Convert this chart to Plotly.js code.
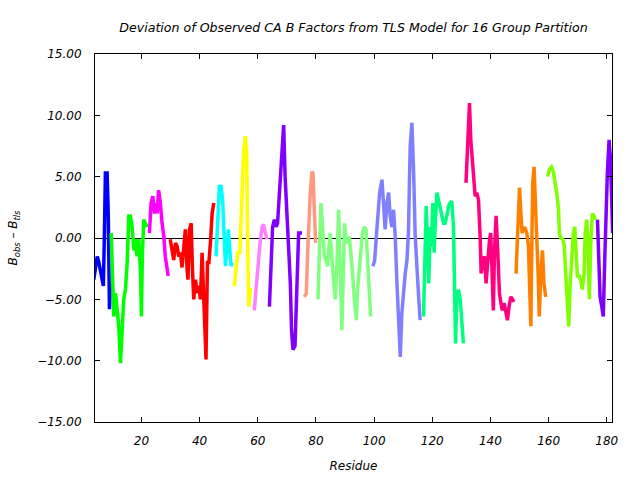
<!DOCTYPE html>
<html>
<head>
<meta charset="utf-8">
<script src="https://cdn.plot.ly/plotly-3.0.1.min.js"></script>
<style>html,body{margin:0;padding:0;background:#fff;}#chart{width:640px;height:480px;}</style>
</head>
<body>
<div id="chart"></div>
<script>
// Group colours (16 TLS groups)
const groupColors = ["#0000ff","#00ff00","#ff00ff","#ff0000","#00ffff","#ffff00","#ff80ff","#8000ff",
                     "#ff9980","#80ff80","#8080ff","#00ff80","#ff0080","#ff8000","#80ff00","#8000ff"];

// Residue positions and deviations, one pair of arrays per group
const res1 = [3.6,4.3,4.8,5.3,5.9,6.5,6.9,7.3,7.6,8.2,8.6,9.0,9.35];
const dev1 = [-3.4,-2.5,-1.5,-1.9,-2.6,-3.6,-3.9,0.7,5.3,5.3,1.8,-5.8,-3.7];
const res2 = [9.6,10.0,10.5,11.1,11.6,12.2,12.8,13.4,13.9,14.5,15.1,15.65,16.2,16.8,17.4,17.9,18.5,19.1,19.7,20.0,20.3,20.8,21.4,21.95];
const dev2 = [0.4,-2.9,-6.4,-4.5,-5.6,-7.2,-10.2,-7.2,-5.0,-4.2,-2.0,1.8,1.8,0.9,-1.0,-0.1,-1.5,-0.1,-2.9,-6.4,-1.5,1.5,1.2,0.9];
const res3 = [22.75,23.3,23.9,24.5,25.0,25.4,25.9,26.5,27.1,27.7,28.2,28.8,29.2];
const dev3 = [0.4,2.85,3.4,2.0,2.85,2.0,3.9,2.85,1.2,0.1,-1.5,-2.3,-3.1];
const res4 = [29.9,30.5,31.1,31.7,32.3,32.8,33.4,33.95,34.5,35.1,35.7,36.0,36.5,37.1,37.5,37.98,38.6,39.1,39.7,40.3,40.85,41.4,41.8,42.2,42.7,43.2,43.8,44.3,44.9];
const dev4 = [-0.1,-1.2,-1.8,-0.4,-0.7,-1.5,-1.2,-2.4,-0.7,0.7,-2.6,-3.4,0.7,1.2,-2.3,-5.0,-3.4,-4.5,-3.9,-5.0,-1.2,-5.0,-8.3,-9.9,-2.0,-2.0,-0.1,2.0,2.85];
const res5 = [45.65,46.2,46.8,47.4,47.9,48.3,48.9,49.4,49.9,50.3,50.8,51.15];
const dev5 = [-1.5,1.5,4.2,4.2,3.1,0.9,-2.3,-0.7,0.7,-0.7,-2.3,-2.0];
const res6 = [51.95,52.5,53.1,53.8,54.1,54.5,54.8,55.2,55.7,56.2,56.5,56.9,57.45,58.0];
const dev6 = [-3.9,-2.3,-1.2,-1.2,0.7,4.2,6.1,7.2,8.3,6.9,-0.1,-5.6,-4.2,-4.2];
const res7 = [58.8,59.3,59.7,60.3,60.9,61.5,62.0,62.6,63.2];
const dev7 = [-5.9,-4.5,-2.9,-1.8,-0.1,0.9,1.1,0.4,-0.1];
const res8 = [64.0,64.55,65.1,65.7,66.3,66.8,67.4,68.0,68.6,68.9,69.4,69.8,70.3,70.7,71.2,71.6,72.1,72.8,73.3,73.7,74.05,74.6,75.2];
const dev8 = [-5.6,-1.2,0.9,1.5,0.9,1.2,3.7,6.4,7.7,9.2,5.0,3.1,0.4,-0.1,-3.7,-7.5,-9.1,-8.8,-5.0,-1.2,0.4,0.4,0.4];
const res9 = [76.0,76.7,77.15,77.6,78.05,78.6,79.0,79.4,79.9];
const dev9 = [-4.8,-4.5,-1.2,2.3,3.7,5.4,5.3,2.6,-0.4];
const res10 = [80.7,81.15,81.7,82.3,82.9,83.4,84.0,84.6,84.9,85.5,86.1,86.65,87.2,87.8,88.4,88.9,89.5,89.85,90.3,90.9,91.5,92.0,92.6,93.2,93.9,94.3,94.9,95.5,96.0,96.6,97.2,97.75,98.3,98.8];
const dev10 = [-5.0,-0.1,2.85,0.9,-1.5,-1.8,-2.3,-0.4,0.4,-1.8,-3.7,-5.0,-2.3,2.3,-2.9,-7.5,-2.3,1.2,-0.1,-0.4,0.1,-1.0,-2.9,-5.0,-6.7,-4.2,-2.3,-0.7,0.4,0.9,0.7,-1.8,-3.9,-6.4];
const res11 = [99.6,100.2,100.7,101.3,101.9,102.7,103.25,103.8,104.4,105.0,105.5,106.1,106.7,107.3,107.8,108.4,109.0,109.55,110.1,110.7,111.3,111.8,112.4,113.0,113.6,114.1,114.7,115.3,115.8];
const dev11 = [-2.3,-1.8,-0.1,2.3,3.7,4.75,2.3,0.7,2.85,3.7,1.8,0.9,2.3,-0.1,-3.4,-6.7,-9.7,-6.1,-4.2,-2.9,-1.8,0.4,7.5,9.4,5.3,0.4,-2.3,-4.5,-6.7];
const res12 = [117.0,117.45,117.9,118.4,118.8,119.3,119.7,120.2,120.65,121.1,121.6,122.15,122.7,123.3,123.9,124.4,125.0,125.6,126.1,126.7,127.3,127.6,128.0,128.4,129.0,129.6,130.2,130.7];
const dev12 = [-6.4,-1.8,2.6,-0.4,-3.7,0.9,-0.7,2.85,-1.2,1.5,3.7,3.1,2.3,1.8,1.2,1.2,1.8,2.6,2.85,3.0,0.9,-2.9,-8.6,-5.0,-4.2,-5.0,-6.7,-8.6];
const res13 = [131.6,132.1,132.8,133.25,133.7,134.2,134.75,135.3,135.9,136.5,136.8,137.4,137.95,138.5,139.0,139.7,140.1,140.7,141.0,141.4,141.95,142.5,143.1,143.6,144.1,144.7,145.3,145.85,146.4,147.0,147.6,148.1];
const dev13 = [4.5,7.7,11.0,8.0,6.4,4.5,3.4,3.7,3.1,-0.1,-2.9,-1.8,-1.5,-3.7,-1.8,-0.1,0.4,-5.0,-5.9,-1.0,1.8,-1.0,-4.5,-5.3,-5.9,-5.3,-5.9,-6.7,-5.6,-4.8,-5.0,-5.2];
const res14 = [148.8,149.3,149.6,150.0,150.4,150.9,151.35,151.9,152.5,153.1,153.4,153.9,154.2,154.55,155.0,155.5,155.9,156.4,156.8,157.3,157.9,158.4,159.0];
const dev14 = [-2.9,-0.1,2.85,4.1,2.3,0.4,0.8,0.8,0.4,-0.7,-3.4,-7.2,-1.0,4.5,5.8,3.1,0.4,-2.9,-6.4,-2.9,-1.0,-3.7,-4.8];
const res15 = [159.7,160.3,161.0,161.65,162.2,162.8,163.4,163.7,164.2,164.9,165.4,166.0,166.5,166.9,167.4,167.95,168.5,169.0,169.4,169.9,170.5,171.0,171.6,172.2,172.6,173.1,173.6,174.0,174.5,175.05,175.6,176.1];
const dev15 = [5.0,5.6,5.8,5.4,4.5,3.7,2.3,0.4,0.0,-0.1,-0.7,-3.1,-5.9,-7.2,-3.9,-2.0,0.4,0.9,-1.0,-3.1,-3.1,-3.4,-4.2,-2.9,0.4,1.5,-1.0,-5.0,-0.4,2.0,1.8,1.5];
const res16 = [176.8,177.2,177.7,178.3,178.8,179.3,179.75,180.2,180.8,181.2,181.7,182.0];
const dev16 = [1.5,-1.8,-4.8,-5.6,-6.4,-1.8,3.4,5.3,8.0,6.7,3.1,0.4];

const xTicks = [20,40,60,80,100,120,140,160,180];
const yTicks = [-15,-10,-5,0,5,10,15];

const groupRes = [res1,res2,res3,res4,res5,res6,res7,res8,res9,res10,res11,res12,res13,res14,res15,res16];
const groupDev = [dev1,dev2,dev3,dev4,dev5,dev6,dev7,dev8,dev9,dev10,dev11,dev12,dev13,dev14,dev15,dev16];

const traces = groupRes.map((r, i) => ({
  x: r, y: groupDev[i], type: 'scatter', mode: 'lines',
  line: {color: groupColors[i], width: 3.5},
  hoverinfo: 'skip', showlegend: false
}));

const italic = {family: 'DejaVu Sans', size: 12, color: '#000', style: 'italic'};
const titleFont = {family: 'DejaVu Sans', size: 12.6, color: '#000', style: 'italic'};

const layout = {
  width: 640, height: 480,
  margin: {l: 95, r: 28, t: 54, b: 58},
  paper_bgcolor: '#fff', plot_bgcolor: '#fff',
  font: italic,
  title: {text: 'Deviation of Observed CA B Factors from TLS Model for 16 Group Partition',
          font: titleFont, x: 0.5, xref: 'paper', y: 0.942, yref: 'container', yanchor: 'middle'},
  xaxis: {
    range: [4.03, 181.8], tickvals: xTicks, ticks: 'inside', ticklen: 5, tickcolor: '#000',
    showline: true, linecolor: '#000', linewidth: 1, mirror: 'ticks', showgrid: false, zeroline: false,
    tickfont: italic, ticklabelstandoff: 8,
    title: {text: 'Residue', font: italic, standoff: 14}
  },
  yaxis: {
    range: [-15, 15], tickvals: yTicks, tickformat: '.2f', ticks: 'inside', ticklen: 5, tickcolor: '#000',
    showline: true, linecolor: '#000', linewidth: 1, mirror: 'ticks', showgrid: false,
    zeroline: true, zerolinecolor: '#000', zerolinewidth: 1,
    tickfont: italic, ticklabelstandoff: 10,
    title: {text: 'B<sub>obs</sub> \u2013 B<sub>tls</sub>', font: italic, standoff: 16}
  }
};

Plotly.newPlot('chart', traces, layout, {staticPlot: true, displayModeBar: false});
</script>
</body>
</html>
